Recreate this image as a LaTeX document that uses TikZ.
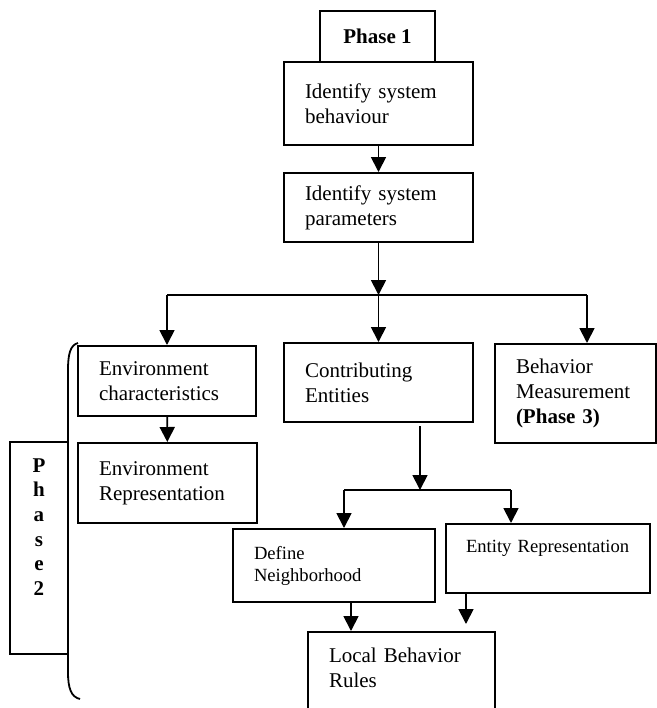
\documentclass[tikz,border=0pt]{standalone}
\usepackage{fontspec}
\setmainfont{Liberation Serif}
\usetikzlibrary{arrows.meta}
\begin{document}
\begin{tikzpicture}[x=0.5pt,y=-0.5pt,
  box/.style={draw, line width=1pt, align=left, inner xsep=10.5pt, inner ysep=0pt, font=\fontsize{10.5}{12.5}\selectfont},
  smallbox/.style={box, font=\fontsize{9.3}{11}\selectfont},
  arr/.style={line width=0.9pt, -{Triangle[length=7.5pt,width=7.5pt]}},
  link/.style={line width=0.9pt}]
\useasboundingbox (0,0) rectangle (657,708);
\clip (0,0) rectangle (657,708);
% phase 1
\node[box, align=center, inner xsep=0pt, minimum width=57.5pt, minimum height=25.5pt, font=\bfseries\fontsize{10.5}{12.5}\selectfont] (phase1) at (377.5,36.5) {Phase 1};
\node[box, text width=73.5pt, minimum height=41.5pt] (behav) at (378.5,103.5) {Identify system\\behaviour};
\node[box, text width=73.5pt, minimum height=34.5pt] (params) at (378.5,207.5) {Identify system\\parameters};
% second row
\node[box, text width=68pt, minimum height=35pt] (envchar) at (167,381) {Environment\\characteristics};
\node[box, text width=73.5pt, minimum height=39.5pt] (contrib) at (378.5,382.5) {Contributing\\Entities};
\node[box, text width=59.5pt, minimum height=49.5pt] (behmeas) at (575.5,393.5) {Behavior\\Measurement\\\textbf{(Phase 3)}};
\node[box, text width=68.5pt, minimum height=40pt] (envrep) at (167.5,483) {Environment\\Representation};
% entities
\node[smallbox, text width=80pt, minimum height=36.5pt] (define) at (334,565.5) {Define\\Neighborhood};
\node[smallbox, anchor=north, inner xsep=10pt, inner ysep=7pt, text width=82pt, text height=7pt, text depth=13.5pt] (entrep) at (548,523) {Entity Representation};
\node[box, anchor=north, text width=72.5pt, inner ysep=8pt, text height=7pt, text depth=37pt] (rules) at (401.5,631) {Local Behavior\\Rules};
% phase 2
\node[draw, line width=1pt, anchor=north, inner xsep=4.5pt, text width=20pt, align=center, inner ysep=8pt, text height=7pt, text depth=83pt, font=\bfseries\fontsize{10.5}{12.35}\selectfont] (phase2) at (39,441) {P\\h\\a\\s\\e\\2};
\draw[line width=0.9pt] (78,343) .. controls (70,345) and (68,355) .. (68,370) -- (68,672) .. controls (68,688) and (71,697) .. (80,699);
% connectors
\coordinate (split) at (378.5,295);
\coordinate (left) at (167,295);
\coordinate (right) at (587,295);
\draw[arr] (behav) -- (params);
\draw[arr] (params) -- (split);
\draw[link] (left) -- (right);
\draw[arr] (left) -- (envchar);
\draw[arr] (split) -- (contrib);
\draw[arr] (right) -- (right |- behmeas.north);
\draw[arr] (envchar) -- (envrep);
\coordinate (split2) at (420,490);
\coordinate (dl) at (344,490);
\coordinate (dr) at (511,490);
\draw[arr, shorten <=1.5pt] (split2 |- contrib.south) -- (split2);
\draw[link] (dl) -- (dr);
\draw[arr] (dl) -- (dl |- define.north);
\draw[arr] (dr) -- (dr |- entrep.north);
\coordinate (dn) at (351,0);
\coordinate (en) at (466,624);
\draw[arr] (dn |- define.south) -- (dn |- rules.north);
\draw[arr] (en |- entrep.south) -- (en);
\end{tikzpicture}
\end{document}
